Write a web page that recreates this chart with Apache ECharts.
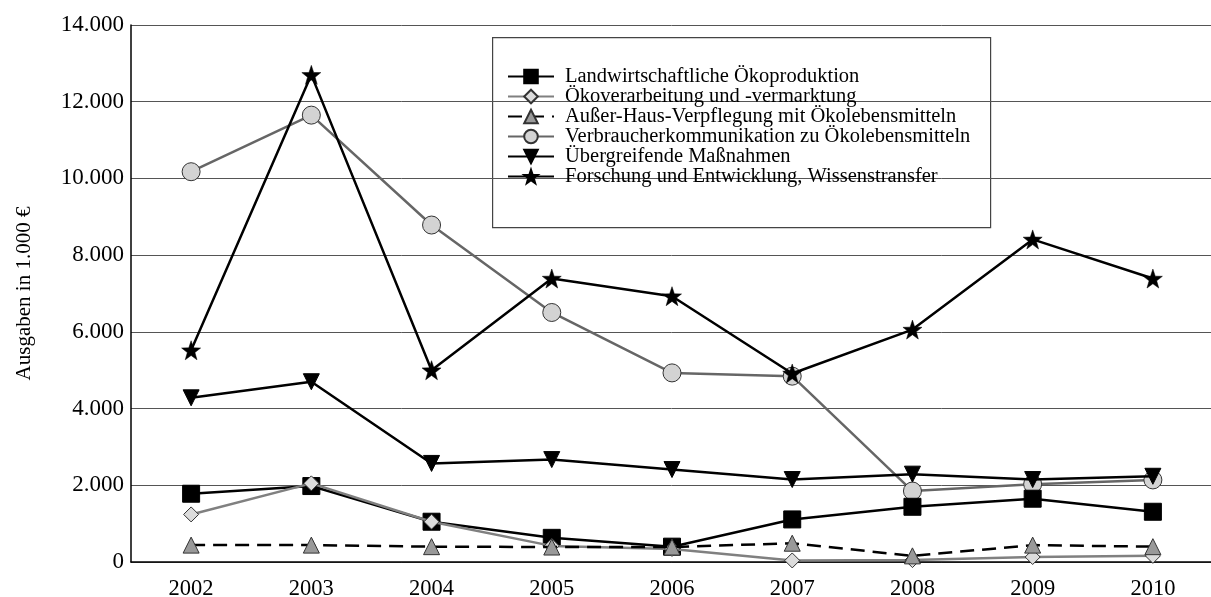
<!DOCTYPE html>
<html>
<head>
<meta charset="utf-8">
<script src="https://cdn.jsdelivr.net/npm/echarts@6/dist/echarts.min.js"></script>
<style>html,body{margin:0;padding:0;background:#fff}#c{width:1211px;height:597px}</style>
</head>
<body>
<div id="c"></div>
<script>
const years = ['2002','2003','2004','2005','2006','2007','2008','2009','2010'];
const yTicks = [0, 2000, 4000, 6000, 8000, 10000, 12000, 14000];
const landwirtschaft = [1780, 1980, 1050, 630, 400, 1110, 1440, 1650, 1310];
const verarbeitung = [1240, 2050, 1050, 420, 340, 40, 50, 130, 160];
const ausserHaus = [440, 440, 400, 390, 390, 490, 160, 440, 400];
const verbraucher = [10175, 11650, 8785, 6505, 4930, 4845, 1850, 2030, 2140];
const uebergreifend = [4280, 4700, 2570, 2670, 2410, 2150, 2290, 2150, 2235];
const forschung = [5520, 12700, 5000, 7390, 6930, 4915, 6060, 8410, 7390];
const names = ['Landwirtschaftliche Ökoproduktion','Ökoverarbeitung und -vermarktung','Außer-Haus-Verpflegung mit Ökolebensmitteln','Verbraucherkommunikation zu Ökolebensmitteln','Übergreifende Maßnahmen','Forschung und Entwicklung, Wissenstransfer'];
const yName = 'Ausgaben in 1.000 €';

const FONT = 'Liberation Serif';
const star = 'path://M0,-10 L2.35,-3.24 L9.51,-3.09 L3.8,1.24 L5.88,8.09 L0,4 L-5.88,8.09 L-3.8,1.24 L-9.51,-3.09 L-2.35,-3.24 Z';

const chart = echarts.init(document.getElementById('c'), null, {renderer:'canvas'});
chart.setOption({
  animation: false,
  backgroundColor: '#fff',
  grid: {left: 131, top: 25, width: 1082, height: 537, containLabel: false, outerBoundsMode: 'none'},
  xAxis: {
    type: 'category', data: years, boundaryGap: true,
    axisLine: {lineStyle: {color: '#000', width: 1.5}},
    axisTick: {alignWithLabel: true, length: 8, lineStyle: {color: '#000', width: 1.2}},
    axisLabel: {fontFamily: FONT, fontSize: 22.5, color: '#000', margin: 16}
  },
  yAxis: {
    type: 'value', min: yTicks[0], max: yTicks[yTicks.length-1], interval: 2000,
    name: yName, nameLocation: 'middle', nameGap: 96, nameRotate: 90,
    nameTextStyle: {fontFamily: FONT, fontSize: 21, color: '#000'},
    axisLine: {show: true, lineStyle: {color: '#000', width: 1.5}},
    axisTick: {show: false},
    splitLine: {lineStyle: {color: '#555', width: 1}},
    axisLabel: {fontFamily: FONT, fontSize: 23, color: '#000', margin: 7,
      formatter: v => v === 0 ? '0' : String(v).replace(/\B(?=(\d{3})+(?!\d))/g, '.')}
  },
  legend: {
    data: names, orient: 'vertical', left: 507, top: 66, padding: 0,
    itemWidth: 46, itemHeight: 17, itemGap: -1,
    textStyle: {fontFamily: FONT, fontSize: 20.5, lineHeight: 17, color: '#000', padding: [0,0,0,6]},
    backgroundColor: 'transparent'
  },
  graphic: [{type: 'rect', left: 492, top: 37, shape: {width: 498, height: 190}, style: {fill: '#fff', stroke: '#444', lineWidth: 1.2}, z: 0, silent: true}],
  series: [
    {name: names[3], type: 'line', data: verbraucher, z: 2,
      lineStyle: {color: '#666', width: 2.5}, symbol: 'circle', symbolSize: 18,
      itemStyle: {color: '#d3d3d3', borderColor: '#333', borderWidth: 1}},
    {name: names[0], type: 'line', data: landwirtschaft, z: 3,
      lineStyle: {color: '#000', width: 2.5}, symbol: 'rect', symbolSize: 17,
      itemStyle: {color: '#000', borderColor: '#000', borderWidth: 1}},
    {name: names[1], type: 'line', data: verarbeitung, z: 4,
      lineStyle: {color: '#808080', width: 2.5}, symbol: 'diamond', symbolSize: 15,
      itemStyle: {color: '#dcdcdc', borderColor: '#333', borderWidth: 1}},
    {name: names[2], type: 'line', data: ausserHaus, z: 5,
      lineStyle: {color: '#000', width: 2.5, type: [14, 8]}, symbol: 'triangle', symbolSize: 16,
      itemStyle: {color: '#999', borderColor: '#333', borderWidth: 1}},
    {name: names[4], type: 'line', data: uebergreifend, z: 6,
      lineStyle: {color: '#000', width: 2.5}, symbol: 'triangle', symbolRotate: 180, symbolSize: 16,
      itemStyle: {color: '#000', borderColor: '#000', borderWidth: 1}},
    {name: names[5], type: 'line', data: forschung, z: 7,
      lineStyle: {color: '#000', width: 2.5}, symbol: star, symbolSize: 19,
      itemStyle: {color: '#000', borderColor: '#000', borderWidth: 0.5}}
  ]
});
</script>
</body>
</html>
